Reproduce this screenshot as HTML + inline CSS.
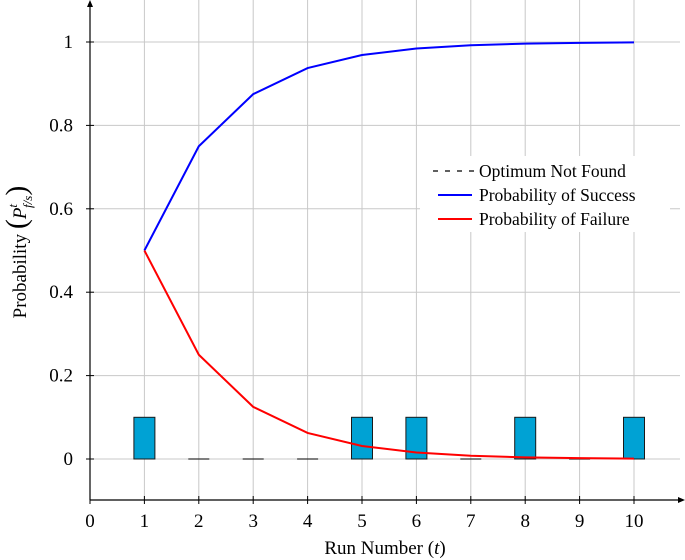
<!DOCTYPE html>
<html><head><meta charset="utf-8"><style>
body{margin:0;background:#fff;}
svg{display:block;font-family:"Liberation Serif",serif;}
</style></head><body>
<svg id="c" width="685" height="560"></svg>
<script>
const runs=[1,2,3,4,5,6,7,8,9,10];
const success=[0.5,0.75,0.875,0.9375,0.96875,0.984375,0.9921875,0.99609375,0.998046875,0.9990234375];
const failure=[0.5,0.25,0.125,0.0625,0.03125,0.015625,0.0078125,0.00390625,0.001953125,0.0009765625];
const notFound=[0.1,0,0,0,0.1,0.1,0,0.1,0,0.1];
const xTicks=[0,1,2,3,4,5,6,7,8,9,10];
const yTicks=[0,0.2,0.4,0.6,0.8,1];
const yTickLabels=["0","0.2","0.4","0.6","0.8","1"];
const NS="http://www.w3.org/2000/svg";
const svg=document.getElementById('c');
const X=v=>90+54.4*v, Y=v=>459-417*v;
function mk(t,a,p){const e=document.createElementNS(NS,t);for(const k in a)e.setAttribute(k,a[k]);(p||svg).appendChild(e);return e;}
let g=mk('g',{});


xTicks.forEach(v=>{if(v>0)mk('line',{x1:X(v),x2:X(v),y1:0,y2:500,stroke:'#c8c8c8','stroke-width':1},g);});
yTicks.forEach(v=>mk('line',{x1:90,x2:680,y1:Y(v),y2:Y(v),stroke:'#c8c8c8','stroke-width':1},g));
let ax=mk('line',{x1:90,x2:680,y1:500,y2:500,stroke:'#000','stroke-width':1.2});


mk('path',{d:'M685 500 L678 497 L678 503 Z',fill:'#000'});
let ay=mk('line',{x1:90,x2:90,y1:2,y2:500,stroke:'#000','stroke-width':1.2});


mk('path',{d:'M90 0 L87 7 L93 7 Z',fill:'#000'});
xTicks.forEach(v=>{mk('line',{x1:X(v),x2:X(v),y1:496,y2:504,stroke:'#000'});
 const t=mk('text',{x:X(v),y:527,'text-anchor':'middle','font-size':19});t.textContent=v;
 
 });
yTicks.forEach((v,i)=>{mk('line',{x1:86,x2:94,y1:Y(v),y2:Y(v),stroke:'#000'});
 const t=mk('text',{x:73,y:Y(v)+6,'text-anchor':'end','font-size':19});t.textContent=yTickLabels[i];
 
 });
runs.forEach((r,i)=>{const h=notFound[i];
 if(h>0){const b=mk('rect',{x:X(r)-10.5,y:Y(h),width:21,height:Y(0)-Y(h),fill:'#00a2d4',stroke:'#1a1a1a','stroke-width':1});
  
  }
 else{const b=mk('line',{x1:X(r)-10.5,x2:X(r)+10.5,y1:Y(0),y2:Y(0),stroke:'#333','stroke-width':1.2});
  
  }});
function line(arr,col,name){const p=mk('polyline',{points:runs.map((r,i)=>X(r)+','+Y(arr[i])).join(' '),fill:'none',stroke:col,'stroke-width':2});
 
 }
line(success,'#0000ff','success-line');
line(failure,'#ff0000','failure-line');
let lg=mk('g',{});


mk('rect',{x:420,y:156,width:250,height:76,fill:'#fff'},lg);
mk('line',{x1:433,x2:478,y1:171,y2:171,stroke:'#000','stroke-width':1.2,'stroke-dasharray':'5,7'},lg);
mk('line',{x1:438,x2:472,y1:195,y2:195,stroke:'#0000ff','stroke-width':2},lg);
mk('line',{x1:438,x2:472,y1:219,y2:219,stroke:'#ff0000','stroke-width':2},lg);
[['Optimum Not Found',177,'legend-not-found'],['Probability of Success',201,'legend-success'],['Probability of Failure',225,'legend-failure']].forEach(a=>{
 const t=mk('text',{x:479,y:a[1],'font-size':17.5},lg);t.textContent=a[0];
 
 });
const xt=mk('text',{x:385,y:554,'text-anchor':'middle','font-size':19});
xt.innerHTML='Run Number (<tspan font-style="italic">t</tspan>)';


const yt=mk('text',{x:0,y:0,'text-anchor':'middle','font-size':19,transform:'translate(26,252) rotate(-90)'});
yt.innerHTML='Probability <tspan font-size="30">(</tspan><tspan font-style="italic">P</tspan><tspan font-style="italic" font-size="13" dy="-9">t</tspan><tspan font-style="italic" font-size="13" dx="-4" dy="15">f/s</tspan><tspan font-size="30" dy="-6">)</tspan>';


</script>
</body></html>
